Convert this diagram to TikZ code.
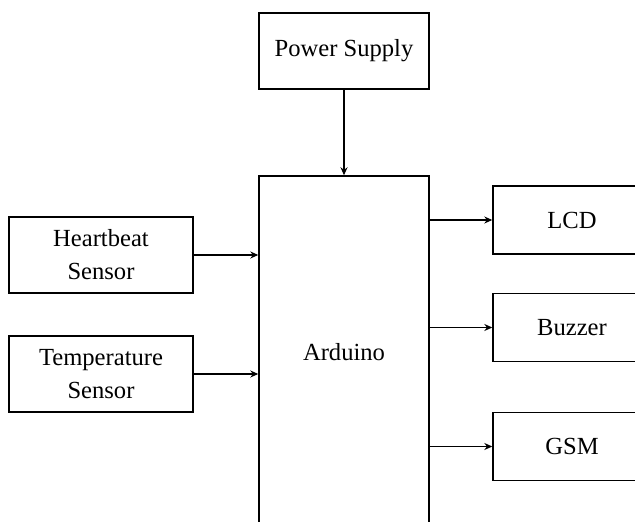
\documentclass[tikz,border=0pt]{standalone}
\usepackage{fontspec}
\setmainfont{Liberation Serif}
\usetikzlibrary{positioning, arrows.meta}

\begin{document}
\begin{tikzpicture}[
		x=0.5pt, y=-0.5pt,
		>={Stealth[length=4pt, width=3.5pt]},
		block/.style={draw, line width=0.7pt, align=center, inner sep=0pt, font=\fontsize{12.3}{16.5}\selectfont},
		sensor/.style={block, minimum width=92pt, minimum height=38pt},
		output/.style={block, minimum width=79pt, minimum height=34pt},
		link/.style={->, line width=0.7pt}
		]
		
		% --- CANVAS ---
		\clip (0,0) rectangle (635,522);
		
		% --- POWER & CONTROLLER ---
		\node[block, minimum width=85pt, minimum height=38pt] (power) at (344, 51) {Power Supply};
		\node[block, minimum width=85pt, minimum height=176pt] (arduino) at (344, 352) {Arduino};
		
		% --- INPUT SENSORS ---
		\node[sensor] (heart) at (101, 255) {Heartbeat\\Sensor};
		\node[sensor] (temp) at (101, 374) {Temperature\\Sensor};
		
		% --- OUTPUT DEVICES ---
		\node[output] (lcd) at (572, 220) {LCD};
		\node[output] (buzzer) at (572, 327.5) {Buzzer};
		\node[output] (gsm) at (572, 446.5) {GSM};
		
		% --- CONNECTIONS ---
		\draw[link] (power) -- (arduino);
		\foreach \s in {heart, temp} {
			\draw[link] (\s.east) -- (arduino.west |- \s.east);
		}
		\foreach \d in {lcd, buzzer, gsm} {
			\draw[link] (arduino.east |- \d.west) -- (\d.west);
		}
		
	\end{tikzpicture}
\end{document}
